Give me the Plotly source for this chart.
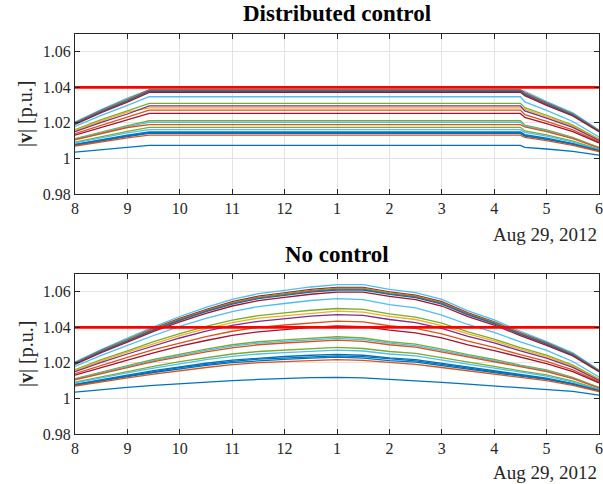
import plotly.graph_objects as go
from plotly.subplots import make_subplots

DAY = "2012-08-29 "
nc_times = [DAY + t for t in ["08:00", "08:30", "09:00", "09:30", "10:00", "10:30", "11:00",
                               "11:30", "12:00", "12:30", "13:00", "13:30", "14:00", "14:30",
                               "15:00", "15:30", "16:00", "16:30", "17:00", "17:30", "18:00"]]
dc_times = [DAY + t for t in ["08:00", "08:30", "09:00", "09:25", "16:30", "16:35",
                               "17:00", "17:30", "18:00"]]

tick_times = [DAY + "%02d:00" % h for h in range(8, 19)]
tick_text = ["8", "9", "10", "11", "12", "1", "2", "3", "4", "5", "6"]
y_ticks = [0.98, 1.0, 1.02, 1.04, 1.06]
y_text = ["0.98", "1", "1.02", "1.04", "1.06"]
v_limit = 1.04

# No control: node voltages (p.u.)
nc_01 = [1.0205,1.0275,1.0339,1.0403,1.0461,1.0512,1.0557,1.0589,1.0608,1.0627,1.0640,1.0640,1.0614,1.0595,1.0557,1.0493,1.0442,1.0378,1.0320,1.0256,1.0160]
nc_02 = [1.0200,1.0269,1.0331,1.0394,1.0450,1.0500,1.0544,1.0575,1.0594,1.0613,1.0625,1.0625,1.0600,1.0581,1.0544,1.0481,1.0431,1.0369,1.0313,1.0250,1.0156]
nc_03 = [1.0198,1.0267,1.0329,1.0391,1.0446,1.0496,1.0539,1.0570,1.0589,1.0608,1.0620,1.0620,1.0595,1.0577,1.0539,1.0477,1.0428,1.0366,1.0310,1.0248,1.0155]
nc_04 = [1.0197,1.0264,1.0326,1.0387,1.0443,1.0492,1.0535,1.0566,1.0584,1.0603,1.0615,1.0615,1.0590,1.0572,1.0535,1.0474,1.0424,1.0363,1.0308,1.0246,1.0154]
nc_05 = [1.0195,1.0262,1.0323,1.0384,1.0439,1.0488,1.0531,1.0561,1.0580,1.0598,1.0610,1.0610,1.0586,1.0567,1.0531,1.0470,1.0421,1.0360,1.0305,1.0244,1.0153]
nc_06 = [1.0191,1.0257,1.0317,1.0377,1.0431,1.0478,1.0520,1.0550,1.0568,1.0586,1.0598,1.0598,1.0574,1.0556,1.0520,1.0460,1.0413,1.0353,1.0299,1.0239,1.0150]
nc_07 = [1.0180,1.0242,1.0298,1.0354,1.0405,1.0450,1.0489,1.0517,1.0534,1.0551,1.0562,1.0556,1.0528,1.0509,1.0469,1.0416,1.0371,1.0318,1.0270,1.0208,1.0121]
nc_08 = [1.0162,1.0218,1.0268,1.0319,1.0364,1.0405,1.0440,1.0466,1.0481,1.0496,1.0506,1.0501,1.0476,1.0458,1.0423,1.0374,1.0334,1.0286,1.0243,1.0187,1.0109]
nc_09 = [1.0157,1.0211,1.0260,1.0309,1.0354,1.0393,1.0427,1.0452,1.0466,1.0481,1.0491,1.0486,1.0462,1.0444,1.0410,1.0363,1.0324,1.0277,1.0236,1.0182,1.0106]
nc_10 = [1.0151,1.0203,1.0250,1.0297,1.0340,1.0378,1.0411,1.0434,1.0448,1.0463,1.0472,1.0467,1.0444,1.0427,1.0394,1.0349,1.0312,1.0267,1.0227,1.0175,1.0101]
nc_11 = [1.0139,1.0187,1.0231,1.0274,1.0313,1.0348,1.0378,1.0400,1.0413,1.0426,1.0435,1.0431,1.0409,1.0394,1.0363,1.0322,1.0287,1.0246,1.0209,1.0161,1.0094]
nc_12 = [1.0131,1.0175,1.0216,1.0257,1.0294,1.0326,1.0355,1.0375,1.0388,1.0400,1.0408,1.0404,1.0384,1.0369,1.0341,1.0302,1.0269,1.0231,1.0196,1.0151,1.0088]
nc_13 = [1.0111,1.0149,1.0184,1.0219,1.0250,1.0278,1.0302,1.0319,1.0330,1.0340,1.0347,1.0340,1.0319,1.0305,1.0278,1.0246,1.0219,1.0187,1.0160,1.0118,1.0062]
nc_14 = [1.0108,1.0145,1.0179,1.0213,1.0243,1.0270,1.0294,1.0311,1.0321,1.0331,1.0338,1.0331,1.0311,1.0297,1.0270,1.0240,1.0213,1.0183,1.0155,1.0115,1.0061]
nc_15 = [1.0105,1.0141,1.0174,1.0207,1.0236,1.0262,1.0285,1.0302,1.0312,1.0321,1.0328,1.0321,1.0302,1.0289,1.0262,1.0233,1.0207,1.0177,1.0151,1.0112,1.0059]
nc_16 = [1.0092,1.0123,1.0152,1.0181,1.0207,1.0230,1.0250,1.0264,1.0273,1.0281,1.0287,1.0281,1.0264,1.0253,1.0230,1.0204,1.0181,1.0155,1.0132,1.0098,1.0052]
nc_17 = [1.0087,1.0117,1.0144,1.0171,1.0196,1.0218,1.0237,1.0250,1.0258,1.0267,1.0272,1.0267,1.0250,1.0239,1.0218,1.0193,1.0171,1.0147,1.0125,1.0092,1.0049]
nc_18 = [1.0079,1.0107,1.0131,1.0156,1.0179,1.0198,1.0216,1.0228,1.0236,1.0243,1.0248,1.0243,1.0228,1.0218,1.0198,1.0176,1.0156,1.0134,1.0114,1.0084,1.0045]
nc_19 = [1.0077,1.0103,1.0127,1.0151,1.0173,1.0192,1.0209,1.0221,1.0228,1.0235,1.0240,1.0235,1.0221,1.0211,1.0192,1.0170,1.0151,1.0130,1.0110,1.0082,1.0043]
nc_20 = [1.0074,1.0100,1.0123,1.0146,1.0167,1.0186,1.0202,1.0213,1.0220,1.0227,1.0232,1.0227,1.0213,1.0204,1.0186,1.0165,1.0146,1.0125,1.0107,1.0079,1.0042]
nc_21 = [1.0070,1.0094,1.0116,1.0137,1.0157,1.0174,1.0190,1.0201,1.0207,1.0214,1.0218,1.0214,1.0201,1.0192,1.0174,1.0155,1.0137,1.0118,1.0100,1.0074,1.0039]
nc_22 = [1.0036,1.0050,1.0062,1.0073,1.0083,1.0092,1.0100,1.0107,1.0113,1.0117,1.0119,1.0116,1.0107,1.0100,1.0090,1.0080,1.0071,1.0062,1.0053,1.0040,1.0019]

# Distributed control: node voltages (p.u.)
dc_01 = [1.0205,1.0275,1.0339,1.0386,1.0386,1.0378,1.0320,1.0256,1.0160]
dc_02 = [1.0200,1.0269,1.0331,1.0385,1.0385,1.0369,1.0313,1.0250,1.0156]
dc_03 = [1.0198,1.0267,1.0329,1.0384,1.0384,1.0366,1.0310,1.0248,1.0155]
dc_04 = [1.0197,1.0264,1.0326,1.0382,1.0382,1.0363,1.0308,1.0246,1.0154]
dc_05 = [1.0195,1.0262,1.0323,1.0378,1.0378,1.0360,1.0305,1.0244,1.0153]
dc_06 = [1.0191,1.0257,1.0317,1.0372,1.0372,1.0353,1.0299,1.0239,1.0150]
dc_07 = [1.0180,1.0242,1.0298,1.0347,1.0347,1.0318,1.0270,1.0208,1.0121]
dc_08 = [1.0162,1.0218,1.0268,1.0310,1.0310,1.0286,1.0243,1.0187,1.0109]
dc_09 = [1.0157,1.0211,1.0260,1.0285,1.0285,1.0277,1.0236,1.0182,1.0106]
dc_10 = [1.0151,1.0203,1.0250,1.0296,1.0296,1.0267,1.0227,1.0175,1.0101]
dc_11 = [1.0139,1.0187,1.0231,1.0272,1.0272,1.0246,1.0209,1.0161,1.0094]
dc_12 = [1.0131,1.0175,1.0216,1.0253,1.0253,1.0231,1.0196,1.0151,1.0088]
dc_13 = [1.0111,1.0149,1.0184,1.0212,1.0212,1.0187,1.0160,1.0118,1.0062]
dc_14 = [1.0108,1.0145,1.0179,1.0203,1.0203,1.0183,1.0155,1.0115,1.0061]
dc_15 = [1.0105,1.0141,1.0174,1.0190,1.0190,1.0177,1.0151,1.0112,1.0059]
dc_16 = [1.0092,1.0123,1.0152,1.0175,1.0175,1.0155,1.0132,1.0098,1.0052]
dc_17 = [1.0087,1.0117,1.0144,1.0162,1.0162,1.0147,1.0125,1.0092,1.0049]
dc_18 = [1.0079,1.0107,1.0131,1.0150,1.0150,1.0134,1.0114,1.0084,1.0045]
dc_19 = [1.0077,1.0103,1.0127,1.0145,1.0145,1.0130,1.0110,1.0082,1.0043]
dc_20 = [1.0074,1.0100,1.0123,1.0141,1.0141,1.0125,1.0107,1.0079,1.0042]
dc_21 = [1.0070,1.0094,1.0116,1.0131,1.0131,1.0118,1.0100,1.0074,1.0039]
dc_22 = [1.0036,1.0050,1.0062,1.0073,1.0073,1.0062,1.0053,1.0040,1.0019]

BLUE, ORANGE, YELLOW, PURPLE = "#0072BD", "#D95319", "#EDB120", "#7E2F8E"
GREEN, LBLUE, DRED = "#77AC30", "#4DBEEE", "#A2142F"
series_colors = [LBLUE, DRED, GREEN, ORANGE, BLUE, DRED, LBLUE, GREEN, YELLOW, PURPLE,
                 ORANGE, DRED, GREEN, LBLUE, ORANGE, GREEN, LBLUE, BLUE, BLUE, BLUE,
                 ORANGE, BLUE]

nc_all = [nc_01, nc_02, nc_03, nc_04, nc_05, nc_06, nc_07, nc_08, nc_09, nc_10, nc_11,
          nc_12, nc_13, nc_14, nc_15, nc_16, nc_17, nc_18, nc_19, nc_20, nc_21, nc_22]
dc_all = [dc_01, dc_02, dc_03, dc_04, dc_05, dc_06, dc_07, dc_08, dc_09, dc_10, dc_11,
          dc_12, dc_13, dc_14, dc_15, dc_16, dc_17, dc_18, dc_19, dc_20, dc_21, dc_22]

fig = make_subplots(rows=2, cols=1, vertical_spacing=0.2)

for row, times, data in [(1, dc_times, dc_all), (2, nc_times, nc_all)]:
    for vals, col in zip(data, series_colors):
        fig.add_trace(go.Scatter(x=times, y=vals, mode="lines",
                                 line=dict(color=col, width=1.3),
                                 showlegend=False, hoverinfo="skip"), row=row, col=1)
    fig.add_trace(go.Scatter(x=[tick_times[0], tick_times[-1]], y=[v_limit, v_limit],
                             mode="lines", line=dict(color="#FF0000", width=2.8),
                             showlegend=False, hoverinfo="skip"), row=row, col=1)

FONT = "Liberation Serif"
axis_common = dict(showline=True, linecolor="#262626", linewidth=1, mirror="ticks",
                   ticks="inside", ticklen=5, tickcolor="#262626",
                   showgrid=True, gridcolor="#E3E3E3", gridwidth=1, zeroline=False,
                   automargin=False,
                   tickfont=dict(family=FONT, size=16, color="#262626"))

for r in (1, 2):
    fig.update_xaxes(range=[tick_times[0], tick_times[-1]], tickvals=tick_times,
                     ticktext=tick_text, row=r, col=1, **axis_common)
    fig.update_yaxes(range=[0.98, 1.07], tickvals=y_ticks, ticktext=y_text,
                     row=r, col=1, **axis_common)

fig.update_layout(yaxis=dict(domain=[0.6, 1.0]), yaxis2=dict(domain=[0.0, 0.4]))

annots = []
for ytitle, title, ydate, ylab in [(1.05, "Distributed control", 0.5, 0.8),
                                   (0.45, "No control", -0.0975, 0.2)]:
    annots.append(dict(text="<b>" + title + "</b>", x=0.5, y=ytitle, xref="paper", yref="paper",
                       xanchor="center", yanchor="middle", showarrow=False,
                       font=dict(family=FONT, size=23, color="#000000")))
    annots.append(dict(text="Aug 29, 2012", x=1.0, y=ydate, xref="paper", yref="paper",
                       xanchor="right", yanchor="middle", showarrow=False,
                       font=dict(family=FONT, size=19, color="#262626")))
    annots.append(dict(text="|<b>v</b>| [p.u.]", x=-0.0935, y=ylab, xref="paper", yref="paper",
                       xanchor="center", yanchor="middle", showarrow=False, textangle=-90,
                       font=dict(family=FONT, size=20, color="#262626")))

fig.update_layout(width=603, height=484, margin=dict(l=75, r=4, t=34, b=50),
                  paper_bgcolor="white", plot_bgcolor="white", annotations=annots)

fig.write_html("out.html", config={"displayModeBar": False},
               post_script="document.body.style.margin='0';document.body.style.overflow='hidden';")
